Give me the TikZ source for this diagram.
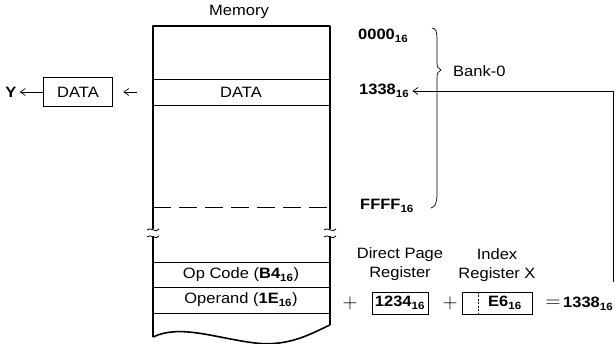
\documentclass[tikz,border=0pt]{standalone}
\usepackage{fontspec}
\setmainfont{Liberation Sans}[FakeStretch=1.1]
\usetikzlibrary{arrows.meta}
\newcommand{\hx}[1]{\textbf{#1\textsubscript{16}}}

\begin{document}
\begin{tikzpicture}[x=1pt,y=-1pt, every node/.style={font=\fontsize{15}{17}\selectfont, inner sep=0pt},
    barb/.style={-{Straight Barb[length=5pt,width=7pt]}, line width=0.7pt},
    regbox/.style={draw, line width=0.7pt, minimum height=22pt},
    opsign/.style={font=\fontsize{20}{20}\selectfont}]
  \useasboundingbox (0,0) rectangle (616,344);
  % memory outline
  \draw[line width=1.6pt, line join=round]
    (153,229) -- (153,26) -- (330,26) -- (330,229);
  \draw[line width=1.6pt] (153,236) -- (153,337);
  \draw[line width=1.6pt] (330,236) -- (330,325);
  \draw[line width=1.6pt]
    (153,337) .. controls (180,324) and (215,338) .. (255,343) .. controls (290,347) and (312,333) .. (330,325);
  % break marks
  \newcommand{\brk}[1]{\draw[line width=0.8pt] (#1-6,230) .. controls (#1-3,226) and (#1+3,234) .. (#1+6,229);
    \draw[line width=0.8pt] (#1-6,237) .. controls (#1-3,233) and (#1+3,241) .. (#1+6,236);}
  \brk{153}
  \brk{330}
  % rows
  \foreach \y in {79,105,262,287,313} { \draw[line width=0.8pt] (153,\y) -- (330,\y); }
  \draw[line width=0.8pt, dash pattern=on 18pt off 8pt] (153,207) -- (330,207);
  \node (memlabel) at (239,12) {Memory};
  \node (rowdata) at (241,92) {DATA};
  \node (opcode) at (241,275) {Op Code (\hx{B4})};
  \node (operand) at (241,300) {Operand (\hx{1E})};
  \coordinate (memdata) at (153,92);
  % register Y
  \node[draw, line width=1.6pt, minimum width=69pt, minimum height=29pt] (databox) at (78,92) {DATA};
  \node[font=\fontsize{15}{17}\selectfont\bfseries] (ylab) at (11,92) {Y};
  \draw[barb] (databox.west) -- ([xshift=3pt]ylab.east);
  \draw[barb] ([xshift=-16pt]memdata) -- ([xshift=10pt]databox.east);
  % addresses
  \node[anchor=west] (a0000) at (358,36) {\hx{0000}};
  \node[anchor=west] (a1338) at (359,91) {\hx{1338}};
  \node[anchor=west] (affff) at (360,206) {\hx{FFFF}};
  \draw[line width=0.7pt]
    (432,28) .. controls (436,28) and (437,32) .. (437,40) -- (437,62)
    .. controls (437,67) and (438,69) .. (441,70)
    .. controls (438,71) and (437,73) .. (437,78) -- (437,194)
    .. controls (437,203) and (435,207) .. (431,208);
  \node[anchor=west] (bank) at (453,71) {Bank-0};
  % address calculation
  \node[align=center] (dplab) at (400,264) {Direct Page\\[2pt]Register};
  \node[align=center] (ixlab) at (497,265) {Index\\[2pt]Register X};
  \node[opsign] (plus1) at (350,303) {$+$};
  \node[regbox, minimum width=56pt] (dpbox) at (400,303) {\hx{1234}};
  \node[opsign] (plus2) at (450,303) {$+$};
  \node[regbox, minimum width=70pt] (ixbox) at (497,303) {};
  \draw[line width=0.6pt, dash pattern=on 2pt off 1.5pt] ([xshift=17pt]ixbox.north west) -- ([xshift=17pt]ixbox.south west);
  \node (ixval) at (505,303) {\hx{E6}};
  \node[opsign] (eqsign) at (553,304) {$=$};
  \node[anchor=west] (result) at (563,304) {\hx{1338}};
  \coordinate (ret) at (613,282);
  \draw[barb] (ret) |- ([xshift=3pt]a1338.east);
\end{tikzpicture}
\end{document}
